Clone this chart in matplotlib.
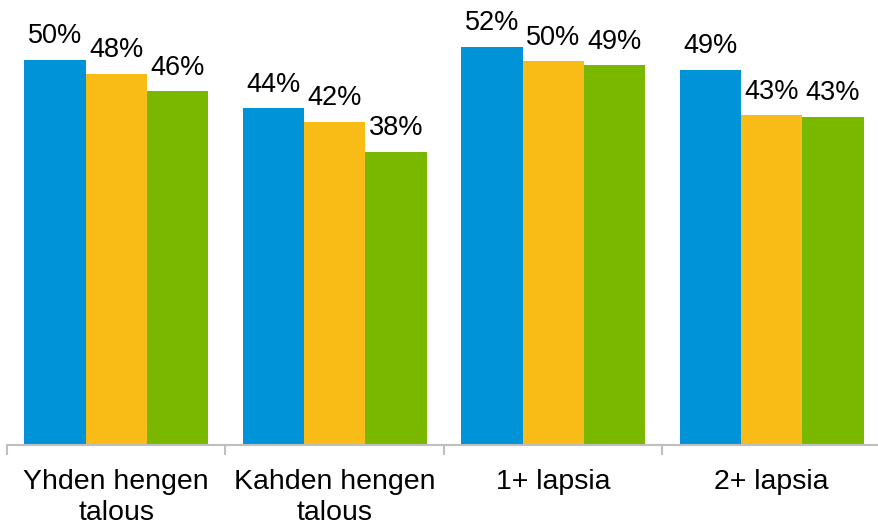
import numpy as np
import matplotlib.pyplot as plt

plt.rcParams['font.family'] = ['Liberation Sans', 'DejaVu Sans']

categories = ['Yhden hengen\ntalous', 'Kahden hengen\ntalous', '1+ lapsia', '2+ lapsia']
series_blue = [49.9, 43.6, 51.6, 48.6]
series_yellow = [48.1, 41.9, 49.7, 42.7]
series_green = [45.8, 38.0, 49.2, 42.55]
colors = ['#0093D7', '#F9BC16', '#7AB800']

fig = plt.figure(figsize=(8.79, 5.26), dpi=100)
ax = fig.add_axes([7 / 879, 81 / 526, 874 / 879, 440 / 526])

x = np.arange(len(categories)) + 0.5
width = 0.28
for i, (vals, col) in enumerate(zip([series_blue, series_yellow, series_green], colors)):
    pos = x + (i - 1) * width
    ax.bar(pos, vals, width=width, color=col, edgecolor='none')
    for p, v in zip(pos, vals):
        ax.annotate(f'{v:.0f}%', (p, v), xytext=(0, 7.5), textcoords='offset points',
                    ha='center', va='bottom', fontsize=19.5, color='black')

ax.set_xlim(0, 4)
ax.set_ylim(0, 57)
ax.set_yticks([])
for s in ['top', 'right', 'left']:
    ax.spines[s].set_visible(False)
ax.spines['bottom'].set_color('#BFBFBF')
ax.spines['bottom'].set_linewidth(1.5)

ax.set_xticks([0, 1, 2, 3, 4])
ax.set_xticklabels([])
ax.tick_params(axis='x', length=7, width=1.5, color='#BFBFBF', direction='out')
ax.set_xticks(x, minor=True)
ax.set_xticklabels(categories, minor=True, fontsize=20.5, linespacing=1.25)
ax.tick_params(axis='x', which='minor', length=0, pad=17)

fig.savefig('out.png', dpi=100, facecolor='white')
